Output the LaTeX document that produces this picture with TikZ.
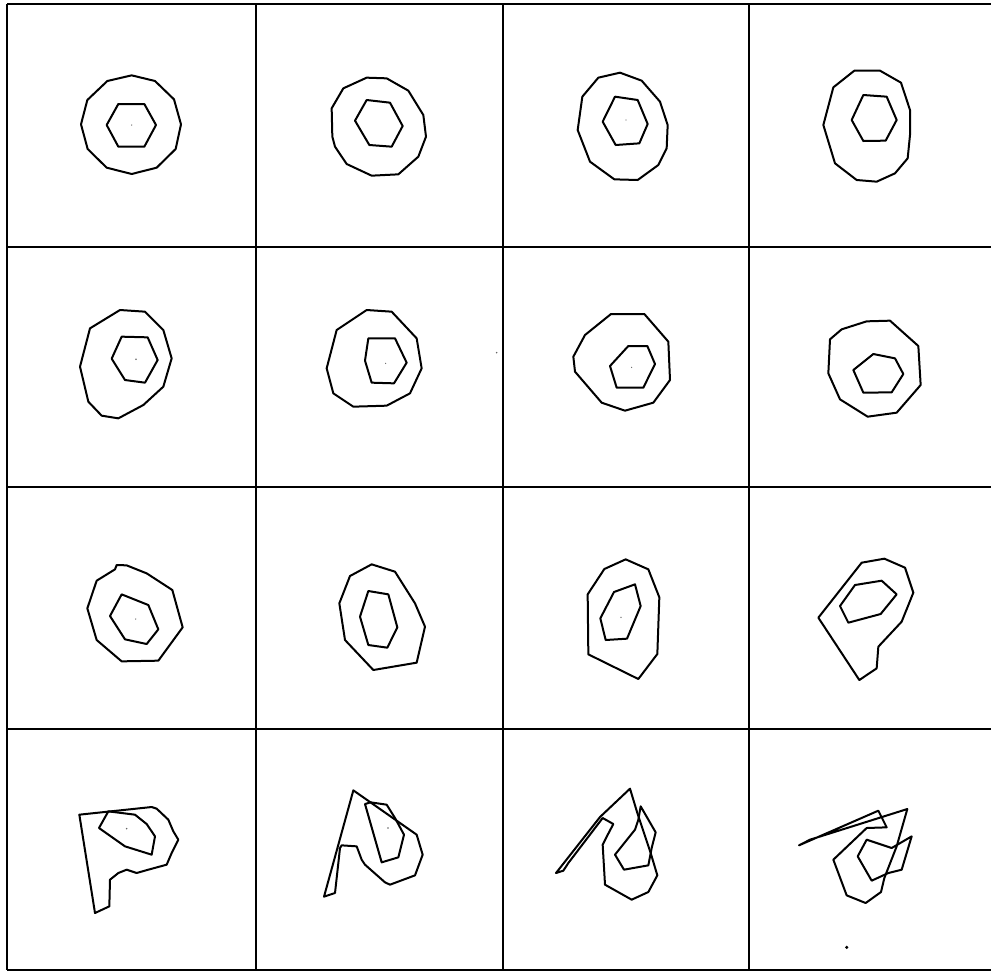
\documentclass[tikz,border=0pt]{standalone}
\begin{document}
\begin{tikzpicture}[x=0.75pt,y=-0.75pt,
  shp/.style={line width=1.5pt,line join=round},
  vgrid/.style={line width=0.9pt},
  hgrid/.style={line width=1.4pt},
  speck/.style={fill=black!60}]
\fill[white] (0,0) rectangle (991,972);
\useasboundingbox (0,0) rectangle (991,972);
% grid
\foreach \x in {7,256,503,749} \draw[vgrid] (\x,4) -- (\x,970);
\foreach \y in {4,247,487,729,970} \draw[hgrid] (7,\y) -- (991,\y);
% row 1, left half
\begin{scope}[shift={(0,0)},scale=1/3]
\draw[shp] (395,226)--(465,243)--(522,298)--(543,373)--(527,447)--(470,503)--(395,522)--(320,503)--(263,447)--(243,373)--(262,300)--(322,243)--cycle;
\draw[shp] (355,312)--(433,312)--(468,375)--(433,440)--(355,440)--(320,375)--cycle;
\fill[speck] (395,375) circle[radius=1.5pt];
\draw[shp] (1100,233)--(1160,235)--(1225,272)--(1270,345)--(1278,410)--(1255,470)--(1195,523)--(1115,527)--(1040,492)--(1005,440)--(997,410)--(995,325)--(1030,265)--cycle;
\draw[shp] (1100,300)--(1170,308)--(1208,378)--(1175,440)--(1108,435)--(1065,362)--cycle;
\end{scope}
% row 1, right half
\begin{scope}[shift={(495,0)},scale=1/3]
\draw[shp] (375,218)--(440,242)--(495,305)--(518,375)--(515,445)--(490,495)--(428,540)--(358,538)--(285,485)--(248,390)--(262,290)--(310,233)--cycle;
\draw[shp] (360,290)--(428,300)--(458,372)--(433,430)--(362,435)--(323,365)--cycle;
\fill[speck] (393,360) circle[radius=1.5pt];
\draw[shp] (1078,212)--(1155,212)--(1218,248)--(1245,330)--(1245,405)--(1238,475)--(1200,520)--(1145,545)--(1085,540)--(1020,490)--(985,375)--(1015,262)--cycle;
\draw[shp] (1105,285)--(1175,290)--(1205,360)--(1172,422)--(1105,423)--(1070,360)--cycle;
\end{scope}
% row 2, left half
\begin{scope}[shift={(0,240)},scale=1/3]
\draw[shp] (360,210)--(435,215)--(490,270)--(515,355)--(490,440)--(430,495)--(355,535)--(305,527)--(265,485)--(240,380)--(270,265)--cycle;
\draw[shp] (365,290)--(443,292)--(473,360)--(435,428)--(375,420)--(335,356)--cycle;
\fill[speck] (408,358) circle[radius=2pt];
\draw[shp] (1100,210)--(1175,215)--(1250,295)--(1265,385)--(1230,460)--(1160,497)--(1060,500)--(1000,460)--(980,385)--(1010,270)--cycle;
\draw[shp] (1105,295)--(1185,295)--(1220,368)--(1182,430)--(1115,428)--(1095,362)--cycle;
\fill[speck] (1157,370) circle[radius=1.5pt];
\fill[speck] (1490,338) circle[radius=2pt];
\end{scope}
% row 2, right half
\begin{scope}[shift={(495,240)},scale=1/3]
\draw[shp] (348,222)--(448,222)--(520,305)--(525,420)--(475,488)--(390,512)--(320,488)--(240,395)--(235,350)--(270,285)--cycle;
\draw[shp] (400,318)--(457,318)--(480,372)--(445,443)--(365,443)--(345,378)--cycle;
\fill[speck] (410,382) circle[radius=1.5pt];
\draw[shp] (1115,244)--(1185,242)--(1270,318)--(1277,435)--(1205,518)--(1118,530)--(1035,478)--(1000,400)--(1005,298)--(1040,268)--cycle;
\draw[shp] (1135,342)--(1200,355)--(1225,402)--(1190,457)--(1105,458)--(1075,390)--cycle;
\end{scope}
% row 3, left half
\begin{scope}[shift={(0,490)},scale=1/3]
\draw[shp] (350,225)--(380,226)--(440,250)--(517,300)--(548,412)--(475,512)--(365,514)--(290,450)--(262,355)--(290,272)--(345,238)--cycle;
\draw[shp] (365,313)--(445,345)--(475,418)--(440,462)--(375,448)--(330,378)--cycle;
\fill[speck] (407,387) circle[radius=1.5pt];
\draw[shp] (1115,223)--(1185,245)--(1245,340)--(1275,410)--(1250,518)--(1120,540)--(1035,450)--(1018,340)--(1050,258)--cycle;
\draw[shp] (1105,303)--(1165,313)--(1192,412)--(1162,473)--(1105,465)--(1080,380)--cycle;
\end{scope}
% row 3, right half
\begin{scope}[shift={(495,490)},scale=1/3]
\draw[shp] (392,208)--(460,238)--(493,322)--(487,492)--(430,567)--(280,493)--(278,313)--(328,237)--cycle;
\draw[shp] (420,283)--(437,348)--(396,446)--(332,450)--(316,385)--(357,306)--cycle;
\fill[speck] (378,382) circle[radius=1.5pt];
\draw[shp] (1168,206)--(1230,233)--(1255,308)--(1220,395)--(1150,470)--(1145,535)--(1093,570)--(970,383)--(1100,218)--cycle;
\draw[shp] (1080,285)--(1160,272)--(1205,313)--(1157,372)--(1060,398)--(1035,348)--cycle;
\end{scope}
% row 4, panel 1
\begin{scope}[shift={(0,738)},scale=1/3]
\draw[shp] (238,230)--(455,207)--(470,212)--(505,245)--(520,280)--(535,305)--(515,345)--(500,380)--(445,395)--(410,405)--(380,395)--(355,405)--(330,425)--(328,505)--(285,525)--cycle;
\draw[shp] (325,220)--(405,230)--(440,258)--(465,295)--(455,350)--(375,325)--(297,270)--cycle;
\fill[speck] (380,272) circle[radius=2pt];
\end{scope}
% row 4, panel 2
\begin{scope}[shift={(250,738)},scale=1/3]
\draw[shp] (310,157)--(500,290)--(518,350)--(495,412)--(420,440)--(405,433)--(345,380)--(335,365)--(320,325)--(275,322)--(270,330)--(255,465)--(222,476)--cycle;
\draw[shp] (345,198)--(362,193)--(410,200)--(435,240)--(462,290)--(445,358)--(395,373)--cycle;
\fill[speck] (414,270) circle[radius=2pt];
\end{scope}
% row 4, panel 3
\begin{scope}[shift={(500,738)},scale=1/3]
\draw[shp] (168,405)--(300,237)--(390,152)--(412,225)--(452,345)--(472,412)--(445,462)--(395,485)--(315,440)--(308,320)--(318,300)--(340,258)--(308,240)--(205,375)--(190,398)--cycle;
\draw[shp] (422,205)--(467,283)--(455,330)--(445,382)--(372,395)--(345,350)--(405,275)--(415,245)--cycle;
\end{scope}
% row 4, panel 4
\begin{scope}[shift={(745,738)},scale=1/3]
\draw[shp] (162,322)--(400,218)--(425,268)--(365,270)--(265,365)--(305,472)--(362,495)--(408,462)--(418,420)--(455,325)--(487,213)--(195,305)--cycle;
\draw[shp] (365,305)--(440,330)--(500,295)--(470,395)--(430,405)--(380,428)--(338,355)--cycle;
\fill (305,628) circle[radius=4pt];
\end{scope}
\end{tikzpicture}
\end{document}
